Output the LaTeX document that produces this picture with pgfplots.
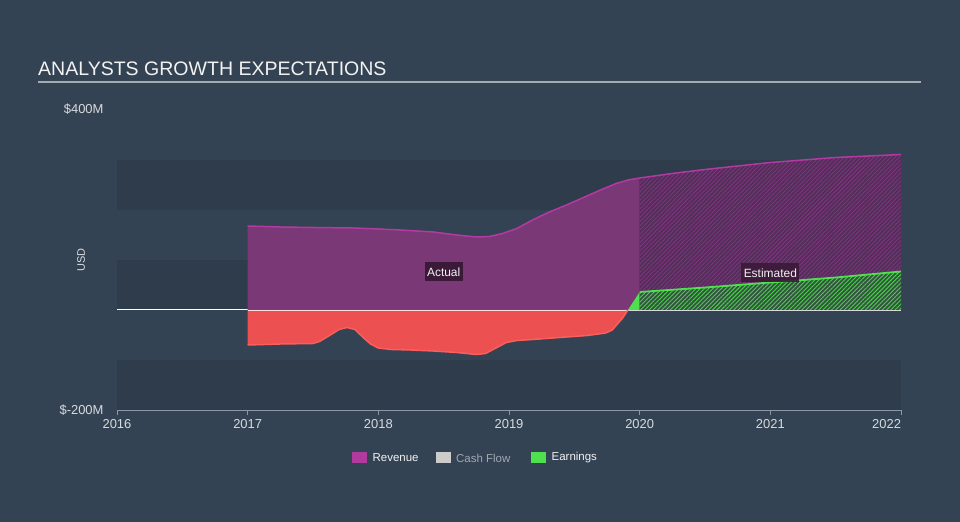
\documentclass[border=0pt]{standalone}
\usepackage{pgfplots}
\pgfplotsset{compat=1.18}
\usepackage{fontspec}
\setmainfont{Liberation Sans}
\usetikzlibrary{patterns.meta}
\definecolor{bg}{RGB}{52,67,83}
\definecolor{band}{RGB}{46,60,75}
\definecolor{revfill}{RGB}{123,56,118}
\definecolor{revline}{RGB}{178,58,162}
\definecolor{redfill}{RGB}{236,80,80}
\definecolor{redline}{RGB}{255,92,92}
\definecolor{grn}{RGB}{78,224,78}
\definecolor{hrevbase}{RGB}{82,46,90}
\definecolor{hrevline}{RGB}{128,52,124}
\definecolor{hgrnbase}{RGB}{52,84,66}
\definecolor{hgrnline}{RGB}{78,205,78}
\definecolor{titletext}{RGB}{242,242,242}
\definecolor{titleline}{RGB}{165,170,175}
\definecolor{axisgray}{RGB}{140,152,165}
\definecolor{ticktext}{RGB}{215,219,223}
\definecolor{boxfill}{RGB}{58,26,56}
\definecolor{cashgray}{RGB}{204,204,204}
\definecolor{revsq}{RGB}{176,58,158}
\begin{document}
\begin{tikzpicture}[x=1bp,y=1bp]
\fill[bg] (0,0) rectangle (960,522);
\node[anchor=base west, font=\fontsize{19.6}{24}\selectfont, text=titletext, inner sep=0pt] at (38,446) {ANALYSTS GROWTH EXPECTATIONS};
\draw[titleline, line width=1.5bp] (38,440) -- (921,440);
\node[rotate=90, font=\fontsize{11}{13}\selectfont, text=ticktext] at (81,262) {USD};
\begin{axis}[
  at={(117bp,112bp)}, anchor=south west,
  scale only axis, width=784bp, height=300bp,
  xmin=2016, xmax=2022, ymin=-200, ymax=400,
  axis x line*=bottom, axis y line*=left,
  y axis line style={draw=none},
  x axis line style={color=axisgray, line width=0.9bp, -},
  xtick={2016,2017,2018,2019,2020,2021,2022},
  xticklabels={2016,2017,2018,2019,2020,2021,\makebox[0pt][r]{2022}},
  x tick style={color=axisgray, line width=0.9bp},
  ytick={-200,400}, yticklabels={\$-200M,\raisebox{2.5bp}{\$400M}},
  y tick style={draw=none},
  tick align=outside, major tick length=5bp,
  xticklabel style={font=\fontsize{13}{15}\selectfont, text=ticktext, inner sep=4.5bp},
  yticklabel style={font=\fontsize{13}{15}\selectfont, text=ticktext, xshift=-5bp},
  clip=false,
]
\fill[band] (axis cs:2016,200) rectangle (axis cs:2022,300);
\fill[band] (axis cs:2016,0) rectangle (axis cs:2022,100);
\fill[band] (axis cs:2016,-200) rectangle (axis cs:2022,-100);
\draw[white, line width=1bp] (axis cs:2016,0) -- (axis cs:2017,0);

% Revenue actual
\addplot[fill=revfill, draw=none] coordinates {
(2017.00,0) (2017.00,168) (2017.25,166) (2017.50,165) (2017.81,164) (2018.00,162)
(2018.17,160) (2018.42,156) (2018.60,150) (2018.75,146) (2018.85,147) (2018.95,153)
(2019.06,163) (2019.18,180) (2019.30,195) (2019.44,210) (2019.57,225) (2019.70,240)
(2019.82,253) (2019.91,260) (2020.00,264) (2020.00,0)} \closedcycle;
% Revenue estimated (hatched)
\addplot[fill=hrevbase, draw=none, postaction={pattern={Lines[angle=45,distance=3bp,line width=0.9bp]}, pattern color=hrevline}] coordinates {
(2020.00,0) (2020.00,264) (2020.25,273) (2020.50,281) (2020.75,288) (2021.00,295)
(2021.25,300) (2021.50,305) (2021.75,308) (2022.00,311) (2022.00,0)} \closedcycle;
% Earnings actual negative
\addplot[fill=redfill, draw=none] coordinates {
(2017.00,0) (2017.00,-70) (2017.25,-68) (2017.50,-67) (2017.55,-63) (2017.62,-52)
(2017.70,-39) (2017.76,-35) (2017.82,-39) (2017.88,-54) (2017.94,-68) (2018.00,-76)
(2018.10,-79) (2018.25,-80) (2018.42,-82) (2018.60,-85) (2018.75,-89) (2018.82,-87)
(2018.90,-76) (2018.98,-65) (2019.06,-61) (2019.18,-59) (2019.44,-54) (2019.60,-51)
(2019.74,-46) (2019.79,-40) (2019.82,-31) (2019.87,-16) (2019.91,0)} \closedcycle;
% Earnings actual positive
\addplot[fill=grn, draw=none] coordinates {(2019.91,0) (2020.00,36) (2020.00,0)} \closedcycle;
% Earnings estimated (hatched)
\addplot[fill=hgrnbase, draw=none, postaction={pattern={Lines[angle=45,distance=3bp,line width=0.9bp]}, pattern color=hgrnline}] coordinates {
(2020.00,0) (2020.00,36) (2020.50,45) (2021.00,55) (2021.50,65) (2022.00,77) (2022.00,0)} \closedcycle;

\draw[white, opacity=0.8, line width=0.8bp] (axis cs:2017,0) -- (axis cs:2022,0);

% Lines
\addplot[revline, line width=1.5bp] coordinates {
(2017.00,168) (2017.25,166) (2017.50,165) (2017.81,164) (2018.00,162)
(2018.17,160) (2018.42,156) (2018.60,150) (2018.75,146) (2018.85,147) (2018.95,153)
(2019.06,163) (2019.18,180) (2019.30,195) (2019.44,210) (2019.57,225) (2019.70,240)
(2019.82,253) (2019.91,260) (2020.00,264) (2020.25,273) (2020.50,281) (2020.75,288) (2021.00,295)
(2021.25,300) (2021.50,305) (2021.75,308) (2022.00,311)};
\addplot[redline, line width=1.5bp] coordinates {
(2017.00,-70) (2017.25,-68) (2017.50,-67) (2017.55,-63) (2017.62,-52)
(2017.70,-39) (2017.76,-35) (2017.82,-39) (2017.88,-54) (2017.94,-68) (2018.00,-76)
(2018.10,-79) (2018.25,-80) (2018.42,-82) (2018.60,-85) (2018.75,-89) (2018.82,-87)
(2018.90,-76) (2018.98,-65) (2019.06,-61) (2019.18,-59) (2019.44,-54) (2019.60,-51)
(2019.74,-46) (2019.79,-40) (2019.82,-31) (2019.87,-16) (2019.91,0)};
\addplot[grn, line width=1.8bp] coordinates {
(2020.00,36) (2020.50,45) (2021.00,55) (2021.50,65) (2022.00,77)};

\node[fill=boxfill, text=titletext, font=\fontsize{12}{14}\selectfont, inner xsep=2.5bp, minimum height=19bp] at (axis cs:2018.5,76) {Actual};
\node[fill=boxfill, fill opacity=0.9, text opacity=1, text=titletext, font=\fontsize{12}{14}\selectfont, inner xsep=2.5bp, minimum height=19bp] at (axis cs:2021.0,74) {Estimated};
\end{axis}
% Legend
\fill[revsq] (352,58.5) rectangle (367,69.5);
\node[anchor=west, inner sep=0pt, font=\fontsize{11.5}{13}\selectfont, text=titletext] at (372.5,64) {Revenue};
\fill[cashgray] (436,58.5) rectangle (451,69.5);
\node[anchor=west, inner sep=0pt, font=\fontsize{11.5}{13}\selectfont, text={rgb,255:red,160;green,168;blue,176}] at (456,64) {Cash Flow};
\fill[grn] (531,58.5) rectangle (546,69.5);
\node[anchor=west, inner sep=0pt, font=\fontsize{11.5}{13}\selectfont, text=titletext] at (551.5,64) {Earnings};
\pgfresetboundingbox
\useasboundingbox (0,0) rectangle (960,522);
\end{tikzpicture}
\end{document}
